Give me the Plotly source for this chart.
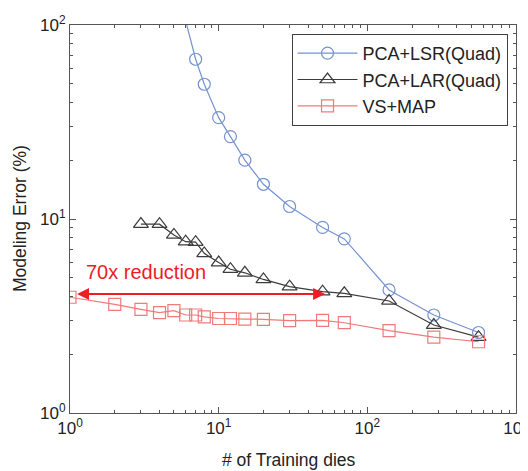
import plotly.graph_objects as go
import numpy as np

# ---- data ----
lsr_x = [5, 7, 8, 10, 12, 15, 20, 30, 50, 70, 140, 280, 560]
lsr_y = [180, 66.6, 49.5, 33.3, 26.6, 20.1, 15.1, 11.6, 9.05, 7.9, 4.31, 3.2, 2.6]

lar_x = [3, 4, 5, 6, 7, 8, 10, 12, 15, 20, 30, 50, 70, 140, 280, 560]
lar_y = [9.42, 9.4, 8.28, 7.64, 7.6, 6.65, 5.96, 5.51, 5.28, 4.88, 4.48, 4.22, 4.14, 3.78, 2.84, 2.46]

map_x = [1, 2, 3, 4, 5, 6, 7, 8, 10, 12, 15, 20, 30, 50, 70, 140, 280, 560]
map_y = [3.95, 3.63, 3.42, 3.29, 3.37, 3.2, 3.2, 3.13, 3.07, 3.07, 3.05, 3.04, 2.99, 3.0, 2.92, 2.66, 2.46, 2.33]

series_names = ["PCA+LSR(Quad)", "PCA+LAR(Quad)", "VS+MAP"]
arrow_from, arrow_to, arrow_level = 1.09, 52, 4.1
annot_text = "70x reduction"
x_title = "# of Training dies"
y_title = "Modeling Error (%)"
x_ticks = [1, 10, 100, 1000]
x_ticktext = ["10<sup>0</sup>", "10<sup>1</sup>", "10<sup>2</sup>", "10<sup>3</sup>"]
y_ticks = [1, 10, 100]
y_ticktext = ["10<sup>0</sup>", "10<sup>1</sup>", "10<sup>2</sup>"]

FONT = "Liberation Sans, Arial, sans-serif"
BLUE = "#7593d0"
GRAY = "#3c3c3c"
PINK = "#f07a7a"
RED = "#ee1c25"
TXT = "#222222"

fig = go.Figure()
fig.add_trace(go.Scatter(x=lsr_x, y=lsr_y, name=series_names[0], mode="lines+markers",
                         line=dict(color=BLUE, width=1.2),
                         marker=dict(symbol="circle-open", size=12, color=BLUE, line=dict(width=1.2))))
fig.add_trace(go.Scatter(x=lar_x, y=lar_y, name=series_names[1], mode="lines+markers",
                         line=dict(color=GRAY, width=1.2),
                         marker=dict(symbol="triangle-up-open", size=13, color=GRAY, line=dict(width=1.2))))
fig.add_trace(go.Scatter(x=map_x, y=map_y, name=series_names[2], mode="lines+markers",
                         line=dict(color=PINK, width=1.2),
                         marker=dict(symbol="square-open", size=12, color=PINK, line=dict(width=1.2))))

fig.add_annotation(x=np.log10(arrow_to), y=np.log10(arrow_level),
                   ax=np.log10(arrow_from), ay=np.log10(arrow_level),
                   xref="x", yref="y", axref="x", ayref="y",
                   text="", showarrow=True, arrowhead=2, arrowsize=1.2, arrowwidth=2,
                   arrowside="end+start", arrowcolor=RED, standoff=0, startstandoff=0)
fig.add_annotation(x=np.log10(1.25), y=np.log10(5.33), xref="x", yref="y",
                   text=annot_text, showarrow=False, xanchor="left", yanchor="middle",
                   font=dict(family=FONT, size=20, color=RED))

# axis titles as annotations for precise placement
fig.add_annotation(x=0.492, y=0, xref="paper", yref="paper", yshift=-47,
                   text=x_title, showarrow=False, xanchor="center", yanchor="middle",
                   font=dict(family=FONT, size=17.5, color=TXT))
fig.add_annotation(x=0, y=0.5, xref="paper", yref="paper", xshift=-50, textangle=-90,
                   text=y_title, showarrow=False, xanchor="center", yanchor="middle",
                   font=dict(family=FONT, size=17.5, color=TXT))

axis_common = dict(type="log", showgrid=False, zeroline=False, showline=True,
                   linecolor="#555555", linewidth=1, mirror="ticks", automargin=False,
                   ticks="inside", ticklen=6, tickcolor="#555555", ticklabeloverflow="allow",
                   tickfont=dict(family=FONT, size=17, color=TXT),
                   minor=dict(ticks="inside", ticklen=3, tickcolor="#555555",
                              tickvals=[m * d for d in [1, 10, 100] for m in range(2, 10)]))

fig.update_xaxes(**axis_common, range=[0, 3], tickvals=x_ticks, ticktext=x_ticktext)
fig.update_yaxes(**axis_common, range=[0, 2], tickvals=y_ticks, ticktext=y_ticktext)

# page body has an 8px margin: figure is offset by 8px, so size/margins compensate
fig.update_layout(width=520, height=463, plot_bgcolor="white", paper_bgcolor="white",
                  margin=dict(l=62, r=12, t=17, b=58),
                  font=dict(family=FONT),
                  legend=dict(x=0.981, y=0.977, xanchor="right", yanchor="top",
                              bordercolor="#404040", borderwidth=1, bgcolor="white",
                              font=dict(family=FONT, size=18, color=TXT),
                              tracegroupgap=0, itemwidth=60))

fig.write_html("out.html")
